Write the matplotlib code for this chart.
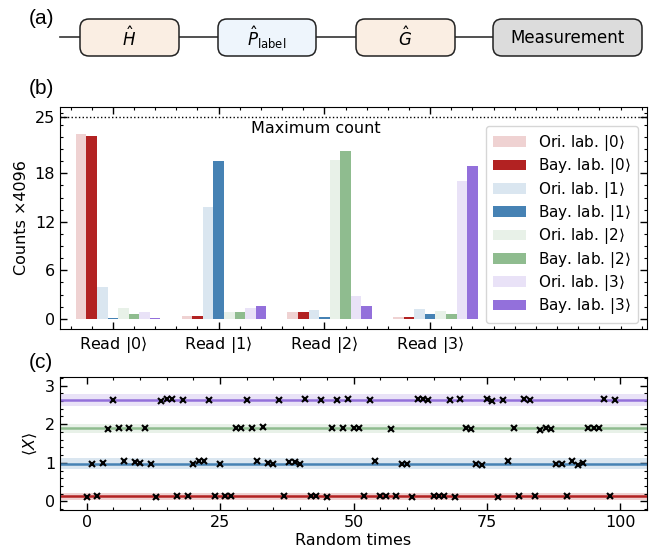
import numpy as np
import matplotlib.pyplot as plt
from matplotlib.patches import FancyBboxPatch
from matplotlib.ticker import MultipleLocator, FixedLocator

plt.rcParams['font.size'] = 11.5
plt.rcParams['mathtext.fontset'] = 'dejavusans'

# (a) circuit blocks
blocks = [r'$\hat{H}$', r'$\hat{P}_{\rm label}$', r'$\hat{G}$', 'Measurement']
block_colors = ['#faeee3', '#eef5fc', '#faeee3', '#dcdcdc']
block_left = [80, 218, 356, 493]
block_width = [99, 98, 99, 149]

# (b) counts (x4096) for each read-out state
reads = [r'Read $|0\rangle$', r'Read $|1\rangle$', r'Read $|2\rangle$', r'Read $|3\rangle$']
series_labels = [r'Ori. lab. $|0\rangle$', r'Bay. lab. $|0\rangle$',
                 r'Ori. lab. $|1\rangle$', r'Bay. lab. $|1\rangle$',
                 r'Ori. lab. $|2\rangle$', r'Bay. lab. $|2\rangle$',
                 r'Ori. lab. $|3\rangle$', r'Bay. lab. $|3\rangle$']
ori0 = [22.8, 0.4, 0.8, 0.25]
bay0 = [22.6, 0.4, 0.8, 0.25]
ori1 = [4.0, 13.8, 1.15, 1.25]
bay1 = [0.15, 19.5, 0.25, 0.62]
ori2 = [1.36, 0.8, 19.6, 1.0]
bay2 = [0.55, 0.8, 20.8, 0.62]
ori3 = [0.9, 1.3, 2.85, 17.1]
bay3 = [0.15, 1.6, 1.6, 18.9]
max_count = 25

base_colors = ['firebrick', 'steelblue', 'darkseagreen', 'mediumpurple']

# (c) expectation values at random times
red_t = [0, 2, 13, 17, 19, 24, 26, 27, 37, 42, 43, 45, 52, 55, 56, 58, 61, 65, 66,
         67, 69, 77, 81, 84, 90, 98]
red_y = [0.12, 0.13, 0.12, 0.14, 0.14, 0.13, 0.14, 0.13, 0.14, 0.13, 0.15, 0.11, 0.14,
         0.13, 0.15, 0.13, 0.11, 0.13, 0.13, 0.14, 0.11, 0.12, 0.14, 0.14, 0.14, 0.14]
blue_t = [1, 3, 7, 9, 10, 12, 20, 21, 22, 25, 32, 34, 35, 38, 39, 40, 54, 59, 60,
          73, 74, 79, 88, 89, 91, 92, 93]
blue_y = [0.98, 1.00, 1.04, 1.02, 1.00, 0.97, 0.98, 1.04, 1.04, 0.98, 1.05, 1.00, 0.98,
          1.02, 1.01, 0.98, 1.06, 0.97, 0.97, 0.98, 0.95, 1.05, 0.98, 0.98, 1.04, 0.94, 1.00]
green_t = [4, 6, 8, 11, 28, 29, 31, 33, 46, 48, 50, 51, 57, 71, 72, 80, 85, 86, 87,
           94, 95, 96]
green_y = [1.88, 1.89, 1.89, 1.89, 1.89, 1.89, 1.89, 1.93, 1.89, 1.91, 1.91, 1.91, 1.87,
           1.90, 1.87, 1.89, 1.86, 1.91, 1.88, 1.90, 1.90, 1.90]
purple_t = [5, 14, 15, 16, 18, 23, 30, 36, 41, 44, 47, 49, 53, 62, 63, 64, 68, 70, 75,
            76, 78, 82, 83, 97, 99]
purple_y = [2.63, 2.61, 2.65, 2.65, 2.63, 2.63, 2.63, 2.62, 2.64, 2.63, 2.62, 2.64, 2.62,
            2.64, 2.65, 2.63, 2.62, 2.64, 2.64, 2.60, 2.62, 2.65, 2.63, 2.65, 2.62]
level_mean = [0.13, 0.98, 1.89, 2.62]
level_std = [0.09, 0.14, 0.11, 0.15]

fig = plt.figure(figsize=(6.67, 5.56), dpi=100)

# ---- (a) ----
axa = fig.add_axes([0, 1 - 70 / 556, 1, 70 / 556])
axa.set_xlim(0, 667)
axa.set_ylim(70, 0)
axa.axis('off')
axa.plot([60, block_left[-1]], [37, 37], color='#333333', lw=1.2, zorder=1)
for lab, c, x0, w in zip(blocks, block_colors, block_left, block_width):
    axa.add_patch(FancyBboxPatch((x0, 19), w, 37, boxstyle='round,pad=0,rounding_size=9',
                                 fc=c, ec='#222222', lw=1.1, zorder=2))
    axa.text(x0 + w / 2, 38, lab, ha='center', va='center', fontsize=12, zorder=3)

# ---- (b) ----
axb = fig.add_axes([60 / 667, 1 - 329 / 556, 587 / 667, 222 / 556])
x = np.arange(len(reads))
width = 0.1
values = [ori0, bay0, ori1, bay1, ori2, bay2, ori3, bay3]
for i, (vals, lab) in enumerate(zip(values, series_labels)):
    base = base_colors[i // 2]
    alpha = 0.2 if i % 2 == 0 else 1.0
    axb.bar(x + (i - 3) * width, vals, width, color=base, alpha=alpha, label=lab, lw=0)
axb.axhline(max_count, color='k', ls=':', lw=1)
axb.text(1.92, 23.6, 'Maximum count', ha='center', va='center', fontsize=11.5)
axb.set_xlim(-0.5, 5.05)
axb.set_ylim(-1.25, 26.2)
axb.set_xticks(x)
axb.set_xticklabels(reads)
axb.xaxis.set_minor_locator(MultipleLocator(0.2))
axb.yaxis.set_major_locator(FixedLocator([0, 6, 12, 18, 25]))
axb.yaxis.set_minor_locator(MultipleLocator(1.5))
axb.set_ylabel('Counts ×4096')
leg = axb.legend(loc='upper right', bbox_to_anchor=(0.985, 0.914), borderaxespad=0,
                 fontsize=11, handlelength=2.2, handleheight=0.7, labelspacing=0.22,
                 borderpad=0.45)

# ---- (c) ----
axc = fig.add_axes([60 / 667, 1 - 510 / 556, 587 / 667, 133 / 556])
for t, y, m, s, c in zip([red_t, blue_t, green_t, purple_t],
                         [red_y, blue_y, green_y, purple_y],
                         level_mean, level_std, base_colors):
    axc.axhspan(m - s, m + s, color=c, alpha=0.2, lw=0)
    axc.axhline(m, color=c, lw=1.8)
    axc.plot(t, y, 'x', color='k', ms=4, mew=1.5, zorder=5)
axc.set_xlim(-5, 105)
axc.set_ylim(-0.22, 3.22)
axc.xaxis.set_major_locator(MultipleLocator(25))
axc.xaxis.set_minor_locator(MultipleLocator(5))
axc.yaxis.set_major_locator(MultipleLocator(1))
axc.yaxis.set_minor_locator(MultipleLocator(0.2))
axc.set_xlabel('Random times', labelpad=2)
axc.set_ylabel(r'$\langle X\rangle$', labelpad=4)

for ax in (axb, axc):
    ax.tick_params(which='both', direction='in', top=True, right=True)
    ax.tick_params(which='major', length=5, width=1)
    ax.tick_params(which='minor', length=2.5, width=0.8)

for lab, ypix in zip(['(a)', '(b)', '(c)'], [18, 89, 362]):
    fig.text(41 / 667, 1 - ypix / 556, lab, family='Liberation Sans', fontsize=15,
             ha='center', va='center')

fig.savefig('out.png', dpi=100)
